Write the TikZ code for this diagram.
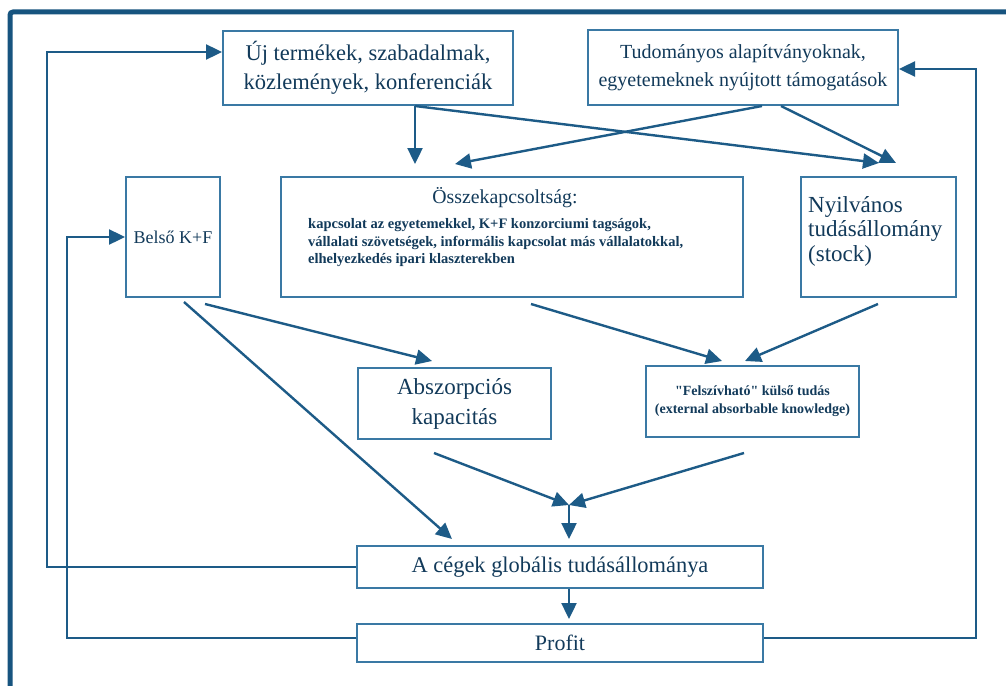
\documentclass[tikz,border=0pt]{standalone}
\usepackage{fontspec}
\setmainfont{Liberation Serif}[Ligatures=TeXOff]
\usetikzlibrary{arrows.meta,calc}
\definecolor{framec}{HTML}{17547F}
\definecolor{linec}{HTML}{1D5B87}
\definecolor{boxc}{HTML}{3A79A4}
\definecolor{txt}{HTML}{123A5A}
\begin{document}
\begin{tikzpicture}[x=1pt,y=-1pt,
  box/.style={draw=boxc, line width=2pt, inner sep=0pt, align=center, text=txt},
  lbl/.style={inner sep=0pt, text=txt},
  arr/.style={draw=linec, line width=2.4pt, -{Triangle[length=16pt,width=15pt]}},
  ]
\useasboundingbox (0,0) rectangle (1006,685);
\fill[white] (0,0) rectangle (1006,685);
% outer frame
\draw[framec, line width=5pt, rounded corners=3pt] (10,690) -- (10,12) -- (1010,12);

% boxes
\node[box, minimum width=290pt, minimum height=74pt, font=\fontsize{22.5}{29}\selectfont] (uj) at (368,68)
  {Új termékek, szabadalmak,\\közlemények, konferenciák};
\node[box, minimum width=310pt, minimum height=75pt, font=\fontsize{20}{28}\selectfont] (tud) at (743,67.5)
  {Tudományos alapítványoknak,\\egyetemeknek nyújtott támogatások};
\node[box, minimum width=94pt, minimum height=120pt, font=\fontsize{18}{20}\selectfont] (belso) at (173,237)
  {Belső K+F};
\node[box, minimum width=462pt, minimum height=120pt] (ossz) at (512,237) {};
\node[lbl, font=\fontsize{19.8}{22}\selectfont] (osszT) at (505,198) {Összekapcsoltság:};
\node[lbl, anchor=west, align=left, font=\bfseries\fontsize{14.5}{17.5}\selectfont] (osszB) at (308,243)
  {kapcsolat az egyetemekkel, K+F konzorciumi tagságok,\\vállalati szövetségek, informális kapcsolat más vállalatokkal,\\elhelyezkedés ipari klaszterekben};
\node[box, minimum width=155pt, minimum height=120pt] (nyil) at (878.5,237) {};
\node[lbl, anchor=west, align=left, font=\fontsize{23}{24.5}\selectfont] (nyilT) at (808,231)
  {Nyilvános\\tudásállomány\\(stock)};
\node[box, minimum width=193pt, minimum height=71pt, font=\fontsize{23}{30}\selectfont] (absz) at (454.5,403.5)
  {Abszorpciós\\kapacitás};
\node[box, minimum width=213pt, minimum height=71pt, font=\bfseries\fontsize{14}{18}\selectfont] (felsz) at (752.5,401.5)
  {"Felszívható" külső tudás\\(external absorbable knowledge)};
\node[box, minimum width=406pt, minimum height=42pt, font=\fontsize{22.4}{24}\selectfont] (glob) at (560,567)
  {A cégek globális tudásállománya};
\node[box, minimum width=406pt, minimum height=38pt, font=\fontsize{22}{24}\selectfont] (prof) at (560,643)
  {Profit};

% arrows between boxes
\draw[arr] ($(uj.south west)+(193,0)$) -- ($(ossz.north west)+(135,-12)$);
\draw[arr] ($(uj.south west)+(193,0)$) -- ($(nyil.north west)+(79,-13)$);
\draw[arr] ($(tud.south west)+(175,0)$) -- ($(ossz.north west)+(175,-12)$);
\draw[arr] ($(tud.south west)+(194,0)$) -- ($(nyil.north west)+(96,-13)$);
\draw[arr] ($(belso.south west)+(59,4)$) -- ($(glob.north west)+(96,-6)$);
\draw[arr] ($(belso.south west)+(80,6)$) -- ($(absz.north west)+(75,-6)$);
\draw[arr] ($(ossz.south west)+(251,6)$) -- ($(felsz.north west)+(77,-4)$);
\draw[arr] ($(nyil.south west)+(78,6)$) -- ($(felsz.north west)+(100,-4)$);
\coordinate (j) at (569,505);
\draw[arr] ($(absz.south west)+(77,13)$) -- (j);
\draw[arr] ($(felsz.south west)+(99,15)$) -- (j);
\draw[arr] (j) -- ($(glob.north west)+(213,-6)$);
\draw[arr] ($(glob.south west)+(213,0)$) -- ($(prof.north west)+(213,-4)$);

% feedback loops
\draw[arr] (glob.west) -- ++(-309,0) |- ($(uj.north west)+(0,22)$);
\draw[arr] ($(prof.west)+(0,-5)$) -- ++(-289,0) |- (belso.west);
\draw[arr] ($(prof.east)+(0,-5)$) -- ++(212,0) |- ($(tud.north east)+(0,40)$);
\end{tikzpicture}
\end{document}
